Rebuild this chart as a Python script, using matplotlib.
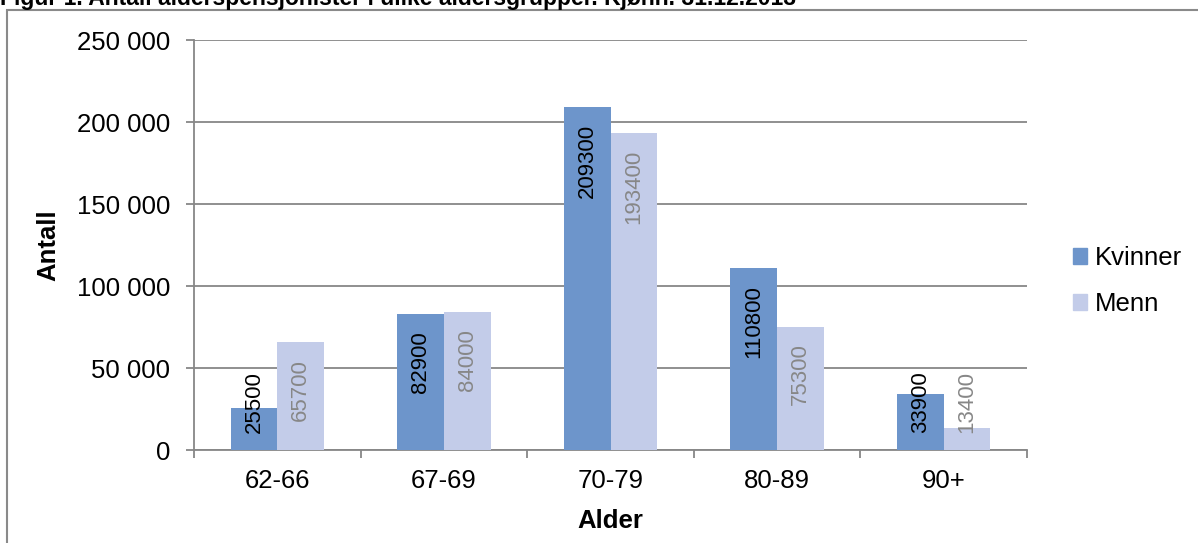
import matplotlib
matplotlib.use("Agg")
import matplotlib.pyplot as plt
import matplotlib.ticker as ticker
from matplotlib.patches import Patch, Rectangle
import numpy as np

# data
categories = ["62-66", "67-69", "70-79", "80-89", "90+"]
kvinner = [25500, 82900, 209300, 110800, 33900]
menn = [65700, 84000, 193400, 75300, 13400]
y_ticks = [0, 50000, 100000, 150000, 200000, 250000]

title = "Figur 1. Antall alderspensjonister i ulike aldersgrupper. Kjønn. 31.12.2013"

COL_K = "#6d95cb"
COL_M = "#c3cce9"
GRID = "#878787"

plt.rcParams["font.family"] = ["Liberation Sans", "DejaVu Sans"]


def fmt_thousands(val, pos):
    return f"{int(val):,}".replace(",", " ")


def add_labels(fig, ax, bars, values, color):
    """Excel style 'inside end' labels, pushed up from the base if too long."""
    fig.canvas.draw()
    renderer = fig.canvas.get_renderer()
    base_px = ax.transData.transform((0, 0))[1]
    gap = 12.2  # points
    for bar, v in zip(bars, values):
        x = bar.get_x() + bar.get_width() / 2
        t = ax.annotate(f"{v}", (x, v), xytext=(0, -gap), textcoords="offset points",
                        rotation=90, ha="center", va="top", fontsize=16, color=color)
        bb = t.get_window_extent(renderer)
        if bb.y0 < base_px + gap * fig.dpi / 72:
            t.remove()
            ax.annotate(f"{v}", (x, 0), xytext=(0, gap), textcoords="offset points",
                        rotation=90, ha="center", va="bottom", fontsize=16, color=color)


def main():
    fig = plt.figure(figsize=(11.98, 5.43), dpi=100)
    # outer chart border (cut by the image edge on the right and bottom)
    fig.patches.append(Rectangle((7 / 1198, -0.05), 1.1, (543 - 10) / 543 + 0.05,
                                 transform=fig.transFigure, fill=False,
                                 edgecolor="#8a8a8a", linewidth=1.5))
    fig.text(0.0, (543 - 5) / 543, title, fontsize=16.5, fontweight="bold",
             ha="left", va="baseline")

    ax = fig.add_axes([194 / 1198, 93 / 543, 833 / 1198, 410 / 543])
    x = np.arange(len(categories))
    w = 0.28
    bk = ax.bar(x - w / 2, kvinner, w, color=COL_K, label="Kvinner", zorder=3)
    bm = ax.bar(x + w / 2, menn, w, color=COL_M, label="Menn", zorder=3)

    ax.set_xlim(-0.5, len(categories) - 0.5)
    ax.set_ylim(0, 250000)
    ax.set_yticks(y_ticks)
    ax.yaxis.set_major_formatter(ticker.FuncFormatter(fmt_thousands))
    ax.set_xticks(x)
    ax.set_xticklabels(categories)
    ax.set_xticks(np.arange(len(categories) + 1) - 0.5, minor=True)
    ax.tick_params(axis="x", which="major", length=0, pad=14, labelsize=18.5)
    ax.tick_params(axis="x", which="minor", length=6, width=1.3, color=GRID)
    ax.tick_params(axis="y", length=6, width=1.3, color=GRID, labelsize=18.5, pad=11)

    ax.grid(axis="y", color=GRID, linewidth=1.3, zorder=0)
    for s in ["top", "right"]:
        ax.spines[s].set_visible(False)
    for s in ["left", "bottom"]:
        ax.spines[s].set_color(GRID)
        ax.spines[s].set_linewidth(1.3)

    ax.set_ylabel("Antall", fontsize=18.5, fontweight="bold", labelpad=12)
    ax.set_xlabel("Alder", fontsize=18.5, fontweight="bold", labelpad=11)

    handles = [Patch(color=COL_K, label="Kvinner"), Patch(color=COL_M, label="Menn")]
    fig.legend(handles=handles, loc="center left", bbox_to_anchor=(1060 / 1198, 1 - 281 / 543),
               frameon=False, fontsize=18.5, handlelength=0.55, handleheight=0.55,
               handletextpad=0.3, labelspacing=0.85, borderpad=0)

    add_labels(fig, ax, bk, kvinner, "black")
    add_labels(fig, ax, bm, menn, "#878787")

    fig.savefig("out.png", dpi=100)


if __name__ == "__main__":
    main()
